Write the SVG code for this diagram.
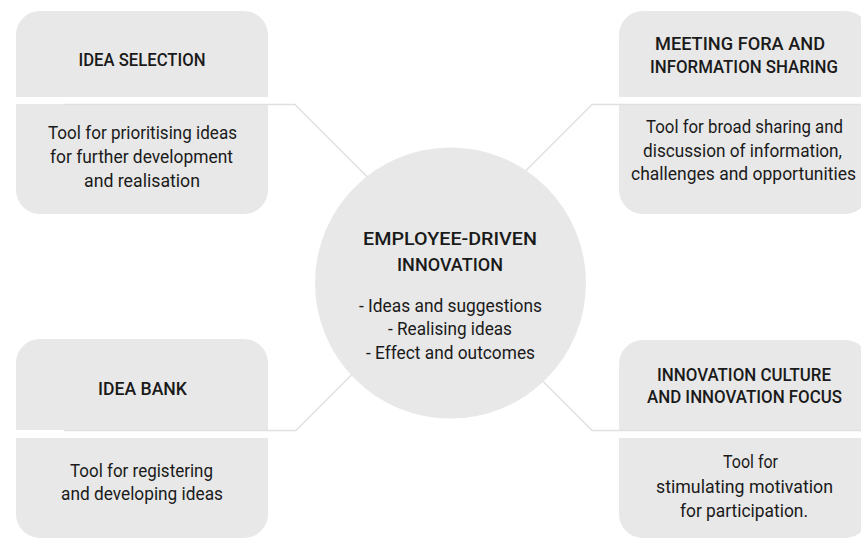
<svg xmlns="http://www.w3.org/2000/svg" width="861" height="539" viewBox="0 0 861 539">
<style>
.box{fill:#e8e8e8}
.hub{fill:#e8e8e8}
.conn{fill:none;stroke:#e0e0e0;stroke-width:1.5}
text{font-family:Roboto,"Liberation Sans",sans-serif;fill:#1a1a1a;text-anchor:middle;font-size:18px}
.h{font-weight:500}
</style>
<rect width="861" height="539" fill="#ffffff"/>
<g id="boxes-bg">
<g id="idea-selection">
<path class="box" d="M16,97 V35 A24,24 0 0 1 40,11 H244 A24,24 0 0 1 268,35 V97 Z"/>
<path class="box" d="M16,104 H268 V190 A24,24 0 0 1 244,214 H40 A24,24 0 0 1 16,190 Z"/>
<text class="h" x="142" y="66" textLength="127" lengthAdjust="spacingAndGlyphs">IDEA SELECTION</text>
<text x="142.5" y="139.3" textLength="189" lengthAdjust="spacingAndGlyphs">Tool for prioritising ideas</text>
<text x="141.5" y="163" textLength="183" lengthAdjust="spacingAndGlyphs">for further development</text>
<text x="142" y="186.7" textLength="116" lengthAdjust="spacingAndGlyphs">and realisation</text>
</g>
<g id="meeting-fora">
<path class="box" d="M619,97 V35 A24,24 0 0 1 643,11 H845 A24,24 0 0 1 869,35 V97 Z"/>
<path class="box" d="M619,104 H869 V190 A24,24 0 0 1 845,214 H643 A24,24 0 0 1 619,190 Z"/>
<text class="h" x="740" y="50" textLength="170" lengthAdjust="spacingAndGlyphs">MEETING FORA AND</text>
<text class="h" x="744" y="72.7" textLength="188" lengthAdjust="spacingAndGlyphs">INFORMATION SHARING</text>
<text x="744.5" y="133.3" textLength="197" lengthAdjust="spacingAndGlyphs">Tool for broad sharing and</text>
<text x="742.5" y="156.7" textLength="199" lengthAdjust="spacingAndGlyphs">discussion of information,</text>
<text x="743.5" y="180" textLength="225" lengthAdjust="spacingAndGlyphs">challenges and opportunities</text>
</g>
<g id="idea-bank">
<path class="box" d="M16,430 V363 A24,24 0 0 1 40,339 H244 A24,24 0 0 1 268,363 V430 Z"/>
<path class="box" d="M16,438 H268 V514 A24,24 0 0 1 244,538 H40 A24,24 0 0 1 16,514 Z"/>
<text class="h" x="142.5" y="395" textLength="89" lengthAdjust="spacingAndGlyphs">IDEA BANK</text>
<text x="141.5" y="476.7" textLength="143" lengthAdjust="spacingAndGlyphs">Tool for registering</text>
<text x="142" y="500" textLength="162" lengthAdjust="spacingAndGlyphs">and developing ideas</text>
</g>
<g id="innovation-culture">
<path class="box" d="M619,430 V364 A24,24 0 0 1 643,340 H845 A24,24 0 0 1 869,364 V430 Z"/>
<path class="box" d="M619,438 H869 V514 A24,24 0 0 1 845,538 H643 A24,24 0 0 1 619,514 Z"/>
<text class="h" x="744" y="381" textLength="174" lengthAdjust="spacingAndGlyphs">INNOVATION CULTURE</text>
<text class="h" x="744.5" y="403.3" textLength="195" lengthAdjust="spacingAndGlyphs">AND INNOVATION FOCUS</text>
<text x="750.5" y="468.3" textLength="55" lengthAdjust="spacingAndGlyphs">Tool for</text>
<text x="744.5" y="493.3" textLength="177" lengthAdjust="spacingAndGlyphs">stimulating motivation</text>
<text x="744" y="516.7" textLength="128" lengthAdjust="spacingAndGlyphs">for participation.</text>
</g>
</g>
<g id="connectors">
<path class="conn" d="M64,104.5 H295 L370,179.5"/>
<path class="conn" d="M861,104.5 H592 L522,174.5"/>
<path class="conn" d="M64,430.5 H296 L356,370.5"/>
<path class="conn" d="M861,430.5 H592 L537,375.5"/>
</g>
<g id="employee-driven-innovation">
<circle class="hub" cx="450.5" cy="283" r="135.5"/>
<text class="h" x="450" y="245" textLength="174" lengthAdjust="spacingAndGlyphs">EMPLOYEE-DRIVEN</text>
<text class="h" x="450" y="271" textLength="106" lengthAdjust="spacingAndGlyphs">INNOVATION</text>
<text x="450.5" y="312" textLength="183" lengthAdjust="spacingAndGlyphs">- Ideas and suggestions</text>
<text x="450" y="335" textLength="124" lengthAdjust="spacingAndGlyphs">- Realising ideas</text>
<text x="450.5" y="359" textLength="169" lengthAdjust="spacingAndGlyphs">- Effect and outcomes</text>
</g>
</svg>
